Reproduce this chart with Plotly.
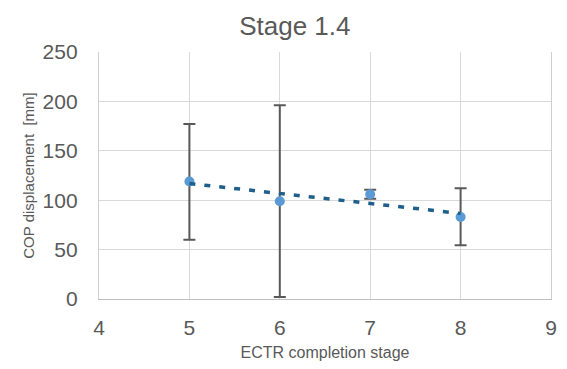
import numpy as np
import plotly.graph_objects as go

# ECTR completion stage vs. COP displacement (mean with min/max range)
stages = [5, 6, 7, 8]
cop_mean = [119, 99, 106, 83]
cop_upper = [177, 196, 110.5, 112]
cop_lower = [60, 2, 101.5, 54.5]

x_ticks = [4, 5, 6, 7, 8, 9]
y_ticks = [0, 50, 100, 150, 200, 250]

err_plus = [u - m for u, m in zip(cop_upper, cop_mean)]
err_minus = [m - l for m, l in zip(cop_mean, cop_lower)]

# linear trend through the mean values
slope, intercept = np.polyfit(stages, cop_mean, 1)
trend_x = [stages[0], stages[-1]]
trend_y = [slope * x + intercept for x in trend_x]

text_col = "#595959"
grid_col = "#d9d9d9"
font_family = "Liberation Sans, Arial, sans-serif"

fig = go.Figure()

fig.add_trace(go.Scatter(
    x=stages, y=cop_mean, mode="markers",
    marker=dict(color="#5B9BD5", size=10),
    error_y=dict(type="data", symmetric=False, array=err_plus, arrayminus=err_minus,
                 color="#595959", thickness=2, width=6),
    showlegend=False, hoverinfo="skip",
))

fig.add_trace(go.Scatter(
    x=trend_x, y=trend_y, mode="lines",
    line=dict(color="#1F5F8B", width=3.5, dash="6px,9px"),
    showlegend=False, hoverinfo="skip",
))

fig.update_layout(
    width=567, height=369,
    margin=dict(l=99, r=10, t=52, b=70),
    paper_bgcolor="white", plot_bgcolor="white",
    font=dict(family=font_family, color=text_col),
    title=dict(text="Stage 1.4", x=0.52, xanchor="center", y=0.93, yanchor="middle",
               font=dict(size=26, color=text_col)),
    xaxis=dict(
        range=[4, 9], tickvals=x_ticks, showgrid=True, gridcolor=grid_col, gridwidth=1.3,
        zeroline=False, showline=True, linecolor="#bfbfbf", linewidth=1.3,
        ticks="outside", ticklen=10, tickcolor="rgba(0,0,0,0)",
        tickfont=dict(size=21, color=text_col),
        title=dict(text="ECTR completion stage", font=dict(size=16, color=text_col), standoff=8),
    ),
    yaxis=dict(
        range=[0, 250], tickvals=y_ticks, showgrid=True, gridcolor=grid_col, gridwidth=1.3,
        zeroline=False, showline=True, linecolor="#cfcfcf", linewidth=1.3, mirror=True,
        ticks="outside", ticklen=16, tickcolor="rgba(0,0,0,0)",
        tickfont=dict(size=21, color=text_col),
        title=dict(text="COP displacement  [mm]", font=dict(size=15, color=text_col), standoff=4),
    ),
)

fig.write_html("out.html")
